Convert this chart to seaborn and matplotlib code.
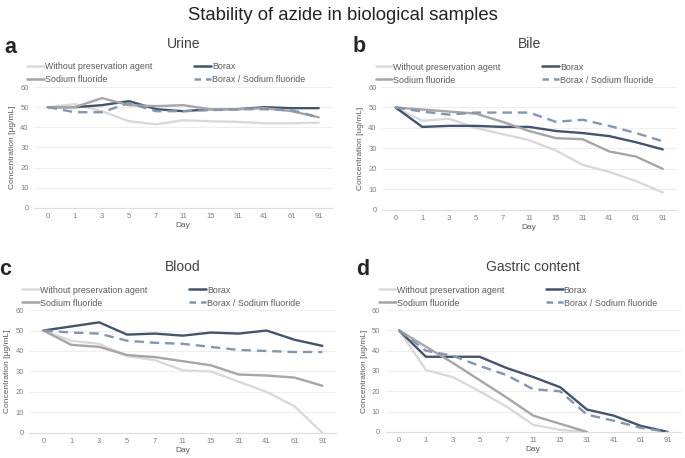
import pandas as pd
import numpy as np
import matplotlib.pyplot as plt
import seaborn as sns
from matplotlib.lines import Line2D

days = ["0", "1", "3", "5", "7", "11", "15", "31", "41", "61", "91"]
series = ["Without preservation agent", "Borax", "Sodium fluoride", "Borax / Sodium fluoride"]

urine_without = [50, 51.5, 48, 43, 41.5, 43.5, 43, 42.7, 42, 42, 42.3]
urine_borax = [50, 50, 51, 53, 49, 48, 49, 49, 50, 49.5, 49.5]
urine_naf = [50, 50, 54.5, 51, 50.5, 51, 49, 49, 49.5, 48, 45]
urine_mix = [50, 47.5, 47.5, 52, 48, 48, 48.5, 49, 49, 48.5, 45]

bile_without = [50, 43.5, 44.5, 40, 37, 34, 29, 22, 18.5, 14, 8.5]
bile_borax = [50, 40.5, 41, 41, 40.5, 40.5, 38.5, 37.5, 36, 33, 29.5]
bile_naf = [50, 49, 48, 47, 43, 38.5, 35, 34.5, 28.5, 26, 20]
bile_mix = [50, 48, 46.5, 47.5, 47.5, 47.5, 43, 44, 41, 37.5, 33.5]

blood_without = [50, 45, 43.5, 37.5, 35.5, 30.5, 30, 25, 20, 13, 0]
blood_borax = [50, 52, 54, 48, 48.5, 47.5, 49, 48.5, 50, 45.5, 42.5]
blood_naf = [50, 43, 42, 38, 37, 35, 33, 28.5, 28, 27, 23]
blood_mix = [50, 49, 48.5, 45, 44, 43.5, 42, 40.5, 40, 39.5, 39.5]

gastric_without = [50, 30.5, 27, 20, 12.5, 3.5, 1, 0, np.nan, np.nan, np.nan]
gastric_borax = [50, 37, 37, 37, 31.5, 27, 22, 11, 8, 3, 0]
gastric_naf = [50, 42, 34, 25.5, 17, 8, 4, 0, np.nan, np.nan, np.nan]
gastric_mix = [50, 40, 37.5, 32.5, 28, 21, 20, 8.5, 5.5, 2, 0]

colors = {"Without preservation agent": "#d9d9d9", "Borax": "#44546a",
          "Sodium fluoride": "#a9a4a7", "Borax / Sodium fluoride": "#8497b0"}
dashes = {"Without preservation agent": "", "Borax": "", "Sodium fluoride": "",
          "Borax / Sodium fluoride": (4, 2.5)}

panels = [
    ("a", "Urine", "Concentration [µg/mL]", [urine_without, urine_borax, urine_naf, urine_mix],
     [0.050, 0.546, 0.435, 0.264]),
    ("b", "Bile", "Concentration [ug/mL]", [bile_without, bile_borax, bile_naf, bile_mix],
     [0.558, 0.542, 0.429, 0.268]),
    ("c", "Blood", "Concentration [µg/mL]", [blood_without, blood_borax, blood_naf, blood_mix],
     [0.043, 0.055, 0.448, 0.268]),
    ("d", "Gastric content", "Concentration [ug/mL]", [gastric_without, gastric_borax, gastric_naf, gastric_mix],
     [0.563, 0.057, 0.431, 0.266]),
]

sns.set_style("white")
plt.rcParams["font.family"] = ["Liberation Sans", "DejaVu Sans"]

fig = plt.figure(figsize=(6.85, 4.58), dpi=100)
fig.suptitle("Stability of azide in biological samples", y=0.985, fontsize=13.3, color="#222222")

for letter, title, ylab, vals, pos in panels:
    ax = fig.add_axes(pos)
    rows = []
    for name, v in zip(series, vals):
        for d, y in zip(days, v):
            rows.append({"Day": d, "value": y, "series": name})
    df = pd.DataFrame(rows)
    sns.lineplot(data=df, x="Day", y="value", hue="series", style="series",
                 hue_order=series, style_order=series, palette=colors, dashes=dashes,
                 linewidth=1.7, ax=ax, legend=False, sort=False)
    ax.set_ylim(0, 60)
    ax.set_xlim(-0.5, len(days) - 0.5)
    ax.set_yticks(range(0, 61, 10))
    ax.yaxis.grid(True, color="#eeeeee", linewidth=0.8)
    for s in ["top", "right", "left"]:
        ax.spines[s].set_visible(False)
    ax.spines["bottom"].set_color("#dddddd")
    ax.tick_params(axis="both", labelsize=5.5, colors="#7f7f7f", length=0, pad=4)
    ax.set_xlabel("Day", fontsize=6, color="#595959", labelpad=1)
    ax.set_ylabel(ylab, fontsize=6, color="#595959", labelpad=3)
    ax.set_title(title, fontsize=10, color="#404040", pad=28)
    ax.text(-0.1, 1.33, letter, transform=ax.transAxes, fontsize=15.5, fontweight="bold",
            va="center", ha="left")
    order = ["Without preservation agent", "Sodium fluoride", "Borax", "Borax / Sodium fluoride"]
    handles = [Line2D([0], [0], color=colors[n], lw=1.8,
                      linestyle=(0, (2.6, 2.0)) if dashes[n] else "-") for n in order]
    ax.legend(handles, order, ncol=2, frameon=False, loc="lower left",
              bbox_to_anchor=(-0.05, 0.955), fontsize=6.4, handlelength=1.9,
              handletextpad=0.1, columnspacing=4.7, labelspacing=0.45,
              labelcolor="#595959")

fig.savefig("out.png", dpi=100)
